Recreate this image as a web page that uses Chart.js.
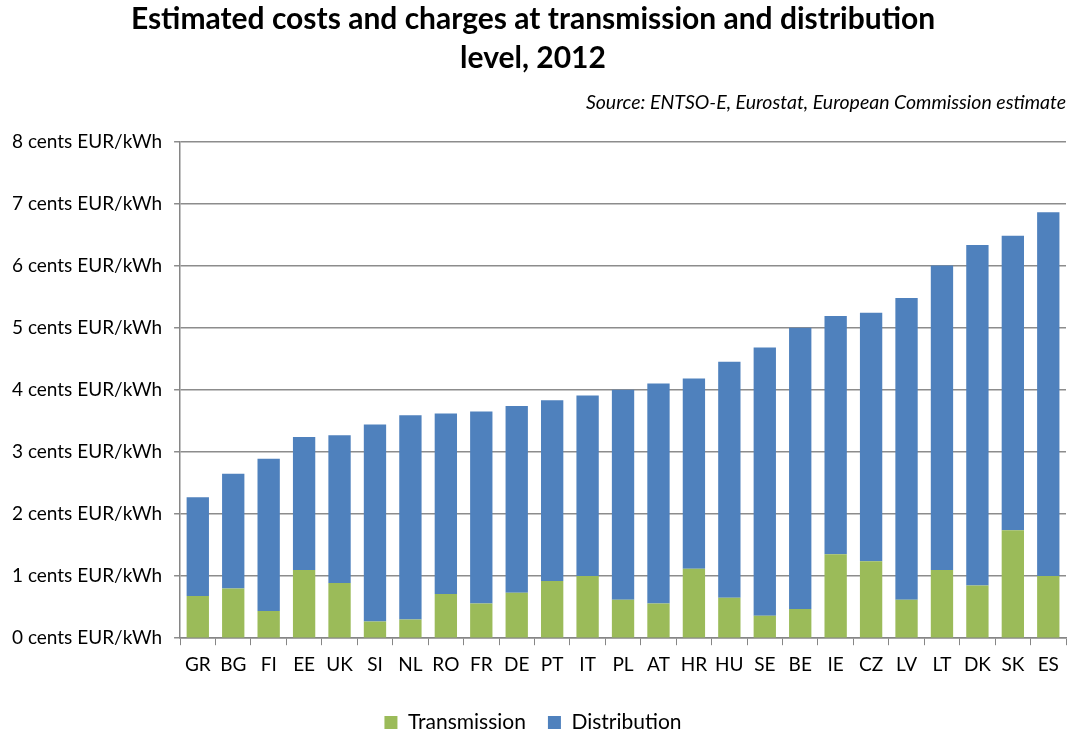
<!DOCTYPE html>
<html>
<head>
<meta charset="utf-8">
<script src="https://cdn.jsdelivr.net/npm/chart.js@4"></script>
<style>
  html, body { margin: 0; padding: 0; background: #fff; }
  #wrap { width: 1068px; height: 736px; }
</style>
</head>
<body>
<div id="wrap"><canvas id="costChart"></canvas></div>
<script>
const countries = ["GR", "BG", "FI", "EE", "UK", "SI", "NL", "RO", "FR", "DE", "PT", "IT",
  "PL", "AT", "HR", "HU", "SE", "BE", "IE", "CZ", "LV", "LT", "DK", "SK", "ES"];

// cents EUR/kWh
const transmission = [0.68, 0.80, 0.44, 1.10, 0.89, 0.27, 0.30, 0.71, 0.56, 0.73, 0.92, 1.00,
  0.62, 0.56, 1.12, 0.65, 0.36, 0.47, 1.35, 1.24, 0.62, 1.10, 0.85, 1.74, 1.00];
const distribution = [1.59, 1.85, 2.45, 2.14, 2.38, 3.17, 3.29, 2.91, 3.09, 3.01, 2.91, 2.91,
  3.38, 3.54, 3.06, 3.80, 4.32, 4.53, 3.84, 4.00, 4.86, 4.90, 5.48, 4.74, 5.86];

const yTickLabels = ["0 cents EUR/kWh", "1 cents EUR/kWh", "2 cents EUR/kWh", "3 cents EUR/kWh",
  "4 cents EUR/kWh", "5 cents EUR/kWh", "6 cents EUR/kWh", "7 cents EUR/kWh", "8 cents EUR/kWh"];

const fontName = "Lato, 'Open Sans', sans-serif";

const ctx = document.getElementById("costChart");
new Chart(ctx, {
  type: "bar",
  data: {
    labels: countries,
    datasets: [
      {
        label: "Transmission",
        data: transmission,
        backgroundColor: "#9bbb59",
        borderWidth: 0,
        barPercentage: 0.63,
        categoryPercentage: 1,
      },
      {
        label: "Distribution",
        data: distribution,
        backgroundColor: "#4f81bd",
        borderWidth: 0,
        barPercentage: 0.63,
        categoryPercentage: 1,
      },
    ],
  },
  options: {
    responsive: true,
    maintainAspectRatio: false,
    animation: false,
    layout: { padding: { left: 0, right: 2, top: 0, bottom: -7 } },
    plugins: {
      title: {
        display: true,
        text: ["Estimated costs and charges at transmission and distribution", "level, 2012"],
        color: "#000",
        font: { family: fontName, size: 30, weight: "bold", lineHeight: 1.3 },
        padding: { top: 0, bottom: 6 },
      },
      subtitle: {
        display: true,
        text: "Source: ENTSO-E, Eurostat, European Commission estimate",
        align: "end",
        color: "#000",
        font: { family: fontName, size: 19.5, style: "italic" },
        padding: { top: 7, bottom: 27 },
      },
      legend: {
        position: "bottom",
        labels: {
          color: "#000",
          font: { family: fontName, size: 21 },
          boxWidth: 13,
          boxHeight: 13,
          padding: 22,
        },
      },
      tooltip: { enabled: false },
    },
    scales: {
      x: {
        stacked: true,
        grid: {
          drawOnChartArea: false,
          color: "#868686",
          tickLength: 7,
          tickColor: "#868686",
        },
        border: { color: "#868686", width: 1.5 },
        ticks: { color: "#000", font: { family: fontName, size: 19 }, padding: 8 },
        afterFit: (scale) => { scale.height += 6; },
      },
      y: {
        stacked: true,
        min: 0,
        max: 8,
        grid: { color: "#8c8c8c", lineWidth: 1.5, tickLength: 6 },
        border: { color: "#868686", width: 1.5 },
        ticks: {
          stepSize: 1,
          color: "#000",
          font: { family: fontName, size: 19 },
          padding: 12,
          callback: (v) => yTickLabels[v],
        },
      },
    },
  },
});
</script>
</body>
</html>
